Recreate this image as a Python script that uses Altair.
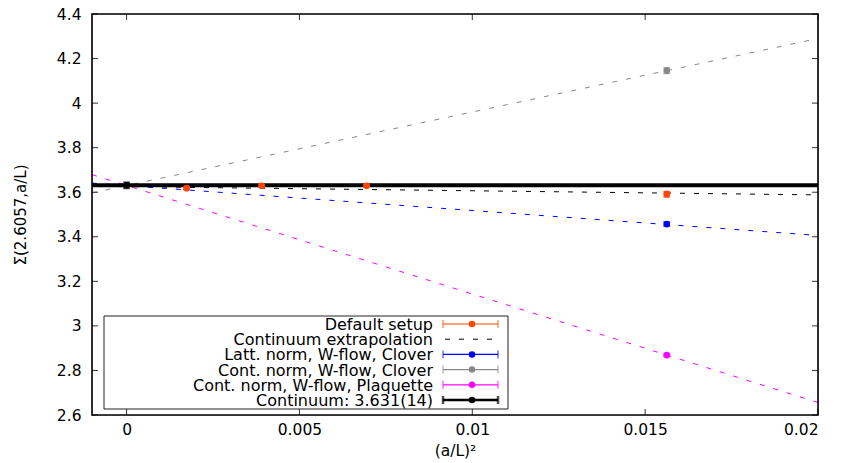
import altair as alt
import pandas as pd

# ---------------- data ----------------
default_x = [0.001736, 0.003906, 0.006944, 0.015625]
default_y = [3.618, 3.629, 3.629, 3.591]
default_err = [0.006, 0.005, 0.005, 0.012]

latt_x = [0.015625]
latt_y = [3.457]
latt_err = [0.009]

clover_x = [0.015625]
clover_y = [4.146]
clover_err = [0.013]

plaq_x = [0.015625]
plaq_y = [2.869]
plaq_err = [0.006]

cont_x = [0.0]
cont_y = [3.631]
cont_err = [0.014]

fit_x = [-0.001, 0.02]
fit_default = [3.627, 3.588]
fit_latt = [3.641, 3.406]
fit_clover = [3.597, 4.290]
fit_plaq = [3.679, 2.656]

continuum_value = [3.631]

legend_labels = ["Default setup", "Continuum extrapolation", "Latt. norm, W-flow, Clover",
                 "Cont. norm, W-flow, Clover", "Cont. norm, W-flow, Plaquette", "Continuum: 3.631(14)"]
legend_colors = ["#ff4500", "black", "#0000ff", "#888888", "#ff00ff", "black"]
legend_kind = ["err", "dash", "err", "err", "err", "thick"]

x_ticks = [0, 0.005, 0.01, 0.015, 0.02]
y_ticks = [2.6, 2.8, 3.0, 3.2, 3.4, 3.6, 3.8, 4.0, 4.2, 4.4]

# ---------------- layout ----------------
W, H = 726, 401
TOP = 6
XD = [-0.001, 0.02]
YD = [2.6, 4.4]
FONT = "DejaVu Sans"


def xd(px):
    return XD[0] + px / W * (XD[1] - XD[0])


def yd(py_abs):
    # absolute page pixel -> data value
    py = py_abs - 8 - TOP
    return YD[1] - py / H * (YD[1] - YD[0])


xaxis = alt.Axis(values=x_ticks, format="~g", ticks=False, domain=False, grid=False,
                 labelFont=FONT, labelFontSize=15.5, labelColor="black", labelPadding=7,
                 title="(a/L)²", titleFont=FONT, titleFontSize=15.5, titleFontWeight="normal",
                 titleColor="black", titleX=W / 2, titleY=35, titleBaseline="middle")
yaxis = alt.Axis(values=y_ticks, format="~g", ticks=False, domain=False, grid=False,
                 labelFont=FONT, labelFontSize=15.5, labelColor="black", labelPadding=11,
                 title="Σ(2.6057,a/L)", titleFont=FONT, titleFontSize=15,
                 titleFontWeight="normal", titleColor="black", titleX=-72, titleY=H / 2,
                 titleBaseline="middle", titleAngle=-90)


def X(f="x"):
    return alt.X(f"{f}:Q", scale=alt.Scale(domain=XD, nice=False, zero=False), axis=xaxis)


def Y(f="y"):
    return alt.Y(f"{f}:Q", scale=alt.Scale(domain=YD, nice=False, zero=False), axis=yaxis)


layers = []

# fit lines
for ys, col in [(fit_default, "black"), (fit_latt, "#0000ff"), (fit_clover, "#888888"),
                (fit_plaq, "#ff00ff")]:
    d = pd.DataFrame({"x": fit_x, "y": ys})
    layers.append(alt.Chart(d).mark_line(color=col, strokeWidth=1, strokeDash=[5, 9])
                  .encode(x=X(), y=Y()))

# continuum thick line
layers.append(alt.Chart(pd.DataFrame({"y": continuum_value}))
              .mark_rule(color="black", strokeWidth=4).encode(y=Y()))

# points with error bars
series = [(default_x, default_y, default_err, "#ff4500"),
          (latt_x, latt_y, latt_err, "#0000ff"),
          (clover_x, clover_y, clover_err, "#888888"),
          (plaq_x, plaq_y, plaq_err, "#ff00ff"),
          (cont_x, cont_y, cont_err, "black")]
for xs, ys, es, col in series:
    d = pd.DataFrame({"x": xs, "y": ys, "lo": [a - b for a, b in zip(ys, es)],
                      "hi": [a + b for a, b in zip(ys, es)]})
    base = alt.Chart(d)
    layers.append(base.mark_rule(color=col, strokeWidth=1.5).encode(x=X(), y=Y("lo"), y2="hi:Q"))
    layers.append(base.mark_tick(color=col, orient="horizontal", size=7, thickness=1.5)
                  .encode(x=X(), y=Y("lo")))
    layers.append(base.mark_tick(color=col, orient="horizontal", size=7, thickness=1.5)
                  .encode(x=X(), y=Y("hi")))
    layers.append(base.mark_point(filled=True, color=col, size=45, opacity=1, shape="circle")
                  .encode(x=X(), y=Y()))

# ticks (inward, all four sides)
xt = pd.DataFrame({"x": x_ticks})
yt = pd.DataFrame({"y": y_ticks})
tick_col = "#333333"
TL = 6
layers.append(alt.Chart(yt).mark_rule(color=tick_col, strokeWidth=1)
              .encode(y=Y(), x=alt.value(0), x2=alt.value(TL)))
layers.append(alt.Chart(yt).mark_rule(color=tick_col, strokeWidth=1)
              .encode(y=Y(), x=alt.value(W - TL), x2=alt.value(W)))
layers.append(alt.Chart(xt).mark_rule(color=tick_col, strokeWidth=1)
              .encode(x=X(), y=alt.value(H - TL), y2=alt.value(H)))
layers.append(alt.Chart(xt).mark_rule(color=tick_col, strokeWidth=1)
              .encode(x=X(), y=alt.value(0), y2=alt.value(TL)))

# legend (gnuplot style key); positions given in page pixels
box = pd.DataFrame({"x": [xd(12)], "x2": [xd(416)], "y": [yd(316)], "y2": [yd(409)]})
layers.append(alt.Chart(box).mark_rect(fill="white", stroke="#222222", strokeWidth=1)
              .encode(x=X(), x2="x2:Q", y=Y(), y2="y2:Q"))

row_y = [yd(324 + i * 15.2) for i in range(len(legend_labels))]
lt = pd.DataFrame({"x": [xd(341)] * len(legend_labels), "y": row_y, "t": legend_labels})
layers.append(alt.Chart(lt).mark_text(align="right", baseline="middle", font=FONT, fontSize=16,
                                      color="black", dy=1)
              .encode(x=X(), y=Y(), text="t:N"))

for lab, col, kind, ry in zip(legend_labels, legend_colors, legend_kind, row_y):
    if kind == "dash":
        d = pd.DataFrame({"x": [xd(353)], "x2": [xd(400)], "y": [ry]})
        layers.append(alt.Chart(d).mark_rule(color=col, strokeWidth=1, strokeDash=[5, 9])
                      .encode(x=X(), x2="x2:Q", y=Y()))
        continue
    sw = 2.5 if kind == "thick" else 1.2
    d = pd.DataFrame({"x": [xd(351)], "x2": [xd(406)], "xc": [xd(380)], "y": [ry]})
    b = alt.Chart(d)
    layers.append(b.mark_rule(color=col, strokeWidth=sw).encode(x=X(), x2="x2:Q", y=Y()))
    layers.append(b.mark_tick(color=col, orient="vertical", size=8, thickness=sw).encode(x=X(), y=Y()))
    layers.append(b.mark_tick(color=col, orient="vertical", size=8, thickness=sw).encode(x=X("x2"), y=Y()))
    layers.append(b.mark_point(filled=True, color=col, size=42, opacity=1).encode(x=X("xc"), y=Y()))

# plot frame
layers.append(alt.Chart(pd.DataFrame({"y": [0]})).mark_rect(fill=None, stroke="black", strokeWidth=1.6)
              .encode(x=alt.value(0), x2=alt.value(W), y=alt.value(0), y2=alt.value(H)))

chart = (alt.layer(*layers)
         .properties(width=W, height=H,
                     autosize=alt.AutoSizeParams(type="none"),
                     padding={"left": 84, "top": TOP, "right": 15, "bottom": 48})
         .configure_view(stroke=None)
         .configure(background="white"))

chart.save("out.html", embed_options={"renderer": "svg", "actions": False})
